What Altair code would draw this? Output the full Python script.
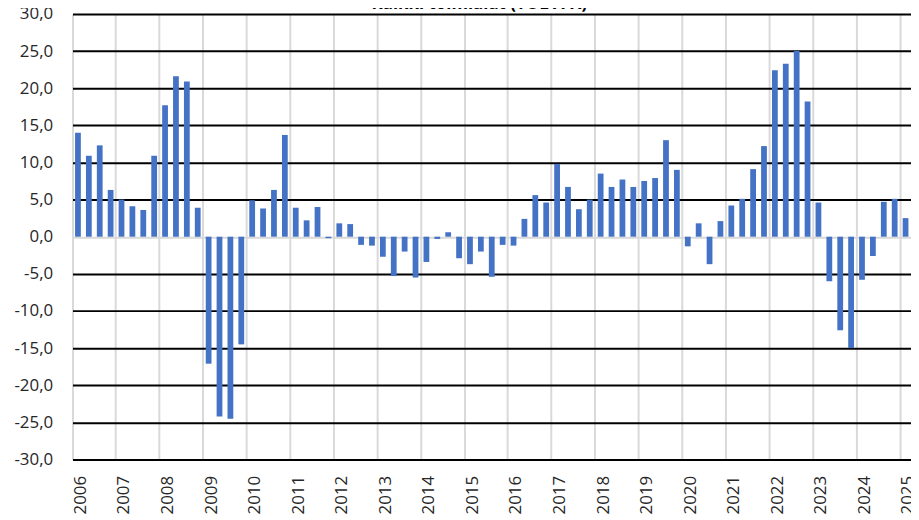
import altair as alt
import pandas as pd

title_text = "Kaikki toimialat (TOL A-X)"

years = list(range(2006, 2026))
quarters = [f"{y}Q{q}" for y in years for q in range(1, 5)][:77]

values = [
    14.0, 10.9, 12.3, 6.3,
    5.0, 4.1, 3.6, 10.9,
    17.7, 21.6, 20.9, 3.9,
    -17.1, -24.2, -24.5, -14.5,
    4.9, 3.8, 6.3, 13.7,
    3.9, 2.2, 4.0, -0.2,
    1.8, 1.7, -1.1, -1.2,
    -2.7, -5.3, -2.0, -5.5,
    -3.4, -0.3, 0.6, -2.9,
    -3.7, -2.0, -5.4, -1.1,
    -1.2, 2.4, 5.6, 4.6,
    9.8, 6.7, 3.7, 5.0,
    8.5, 6.7, 7.7, 6.7,
    7.5, 7.9, 13.0, 9.0,
    -1.3, 1.8, -3.7, 2.1,
    4.2, 5.1, 9.1, 12.2,
    22.4, 23.3, 25.0, 18.2,
    4.6, -6.0, -12.6, -15.0,
    -5.8, -2.6, 4.7, 5.1,
    2.5,
]

year_ticks = [f"{y}Q1" for y in years]
y_ticks = list(range(-30, 31, 5))

df = pd.DataFrame({"kvartaali": quarters, "arvo": values})

FONT = "Open Sans"

bars = alt.Chart(df).mark_bar(
    color="#4472C4", width=alt.RelativeBandSize(0.53)
).encode(
    x=alt.X(
        "kvartaali:O",
        sort=quarters,
        scale=alt.Scale(paddingInner=0, paddingOuter=0),
        axis=alt.Axis(
            title=None,
            values=year_ticks,
            labelExpr="substring(datum.value, 0, 4)",
            bandPosition=0,
            labelAngle=270,
            labelAlign="right",
            labelBaseline="middle",
            labelPadding=16,
            labelOffset=3,
            labelFont=FONT,
            labelFontSize=17,
            labelColor="#262626",
            ticks=False,
            domain=False,
            grid=True,
            gridColor="#d9d9d9",
            gridWidth=2,
        ),
    ),
    y=alt.Y(
        "arvo:Q",
        scale=alt.Scale(domain=[-30, 30], nice=False),
        axis=alt.Axis(
            title=None,
            values=y_ticks,
            labelExpr="replace(replace(format(datum.value, '.1f'), '.', ','), '\u2212', '-')",
            labelPadding=20,
            labelFont=FONT,
            labelFontSize=17,
            labelColor="#262626",
            ticks=False,
            domain=False,
            grid=True,
            gridColor={"condition": {"test": "datum.value === 0", "value": "#d9d9d9"}, "value": "#000000"},
            gridWidth=2,
        ),
    ),
)

title = alt.Chart(pd.DataFrame({"t": [title_text]})).mark_text(
    font=FONT, fontSize=17, fontWeight="bold", color="#000000",
    align="center", baseline="alphabetic",
).encode(
    text="t:N",
    x=alt.value(410),
    y=alt.value(-5),
)

chart = alt.layer(bars, title).properties(
    width=845,
    height=449,
    autosize=alt.AutoSizeParams(type="none"),
    padding={"left": 65, "top": 4, "right": 0, "bottom": 56},
).configure_view(stroke=None)

chart.save("out.html", embed_options={"renderer": "svg", "actions": False})
